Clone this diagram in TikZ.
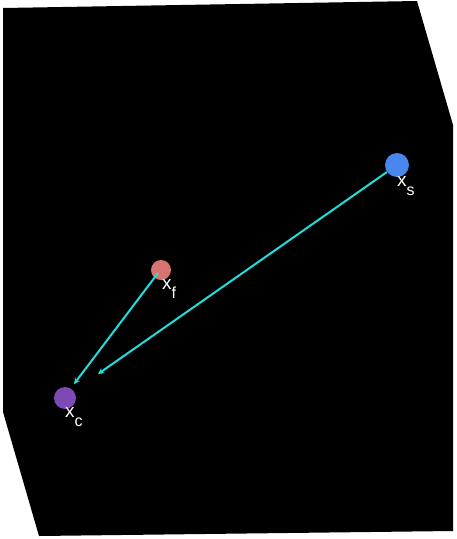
\documentclass[tikz,border=0pt]{standalone}
\usepackage{fontspec}
\setmainfont{Liberation Sans}
\usetikzlibrary{arrows.meta}
\definecolor{pblue}{HTML}{4A86F0}
\definecolor{psalmon}{HTML}{D87470}
\definecolor{ppurple}{HTML}{7D4AB5}
\definecolor{pcyan}{HTML}{1FDEDE}
\newcommand{\subdrop}[1]{\raisebox{-9pt}{\fontsize{16}{16}\selectfont #1}}
\tikzset{
  pt/.style={circle, inner sep=0pt, draw=none},
  lbl/.style={text=white, font=\fontsize{19}{19}\selectfont, inner sep=0pt, anchor=base west},
  conn/.style={draw=pcyan, line width=2pt, -{Stealth[length=6pt,width=6pt]}}
}
\begin{document}
\begin{tikzpicture}[x=1pt,y=-1pt]
\useasboundingbox (0,0) rectangle (456,539);
\fill[black] (3,8) -- (417,1) -- (453,125) -- (453,531) -- (39,536) -- (3,412) -- cycle;
\node[pt, fill=pblue, minimum size=24pt] (s) at (397,165) {};
\node[pt, fill=psalmon, minimum size=20pt] (f) at (161,270) {};
\node[pt, fill=ppurple, minimum size=22pt] (c) at (65,398) {};
\coordinate (ts) at (98,374);
\coordinate (tf) at (74,384);
\draw[conn] (s) -- (ts);
\draw[conn] (f.center) ++(-3,3) coordinate (fs) (fs) -- (tf);
\node[lbl] (ls) at (397,186) {x\subdrop{s}};
\node[lbl] (lf) at (162,289) {x\subdrop{f}};
\node[lbl] (lc) at (65,417) {x\subdrop{c}};
\end{tikzpicture}
\end{document}
